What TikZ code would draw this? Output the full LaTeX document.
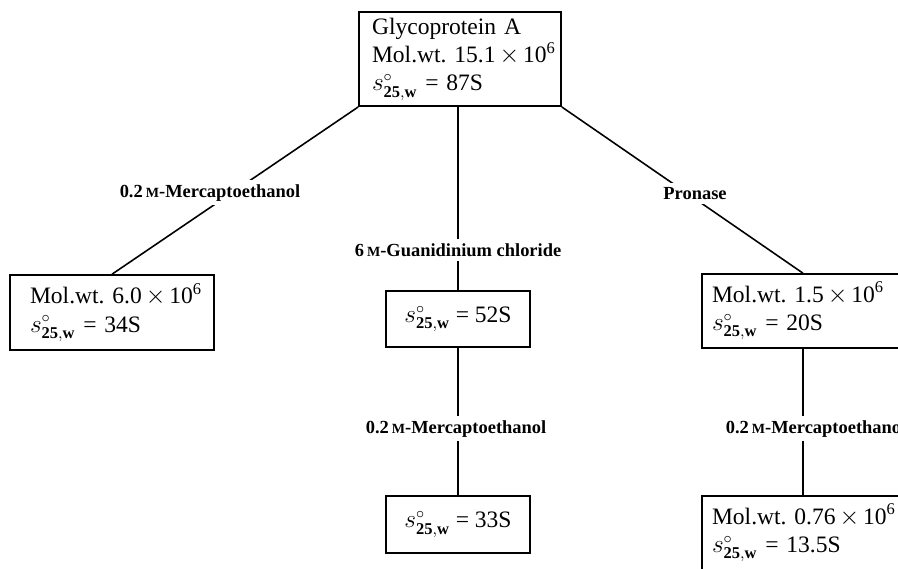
\documentclass[tikz,border=0pt]{standalone}
\usepackage{fontspec}
\setmainfont{Liberation Serif}
\frenchspacing
\newcommand{\boxfont}{\fontsize{13.4}{16.2}\selectfont}
\newcommand{\lblfont}{\fontsize{10.5}{12}\selectfont\bfseries}
\newcommand{\molar}{{\fontsize{8}{8}\selectfont M}}
\newcommand{\sed}[1]{\mbox{$s^{\circ}_{\mathbf{25,w}}$ = #1S}}
\newcommand{\mw}[1]{\mbox{Mol.wt. #1\,$\times$\,10\textsuperscript{6}}}
\tikzset{
  frac/.style={draw, line width=0.9pt, font=\boxfont, align=left},
  agent/.style={fill=white, font=\lblfont, inner xsep=3pt, inner ysep=2.5pt, anchor=base},
  link/.style={line width=0.9pt}
}
\begin{document}
\begin{tikzpicture}[x=0.02cm, y=-0.02cm]
            \clip (0,0) rectangle (898,568);
            % fractions
            \node[frac, text width=3.52cm, inner xsep=0.26cm, minimum height=1.88cm] (top) at (460,59)
              {Glycoprotein A\\\mw{15.1}\\\sed{87}};
            \node[frac, text width=3.28cm, inner xsep=0.4cm, minimum height=1.5cm] (lft) at (112,312.5)
              {\mw{6.0}\\\sed{34}};
            \node[frac, text width=3.64cm, inner xsep=0.2cm, minimum height=1.48cm] (rgt) at (803,311)
              {\mw{1.5}\\\sed{20}};
            \node[frac, align=center, minimum width=2.88cm, minimum height=1.12cm] (mid1) at (458,319) {\sed{52}};
            \node[frac, align=center, minimum width=2.88cm, minimum height=1.14cm] (mid2) at (458,524.5) {\sed{33}};
            \node[frac, text width=3.64cm, inner xsep=0.2cm, minimum height=1.48cm] (rgt2) at (803,533)
              {\mw{0.76}\\\sed{13.5}};
            % connectors
            \draw[link] (top.south west) -- (lft.north);
            \draw[link] (top.south east) -- (rgt.north);
            \draw[link] (top.south -| mid1.north) -- (mid1.north);
            \draw[link] (mid1) -- (mid2);
            \draw[link] (rgt) -- (rgt2);
            % treatments
            \node[agent] (mercL) at (210,197) {0.2\,\molar-Mercaptoethanol};
            \node[agent] (pron) at (695,199) {Pronase};
            \node[agent] (guan) at (458,256) {6\,\molar-Guanidinium chloride};
            \node[agent] (mercM) at (456,433) {0.2\,\molar-Mercaptoethanol};
            \node[agent] (mercR) at (816,433) {0.2\,\molar-Mercaptoethanol};
        \end{tikzpicture}
\end{document}
